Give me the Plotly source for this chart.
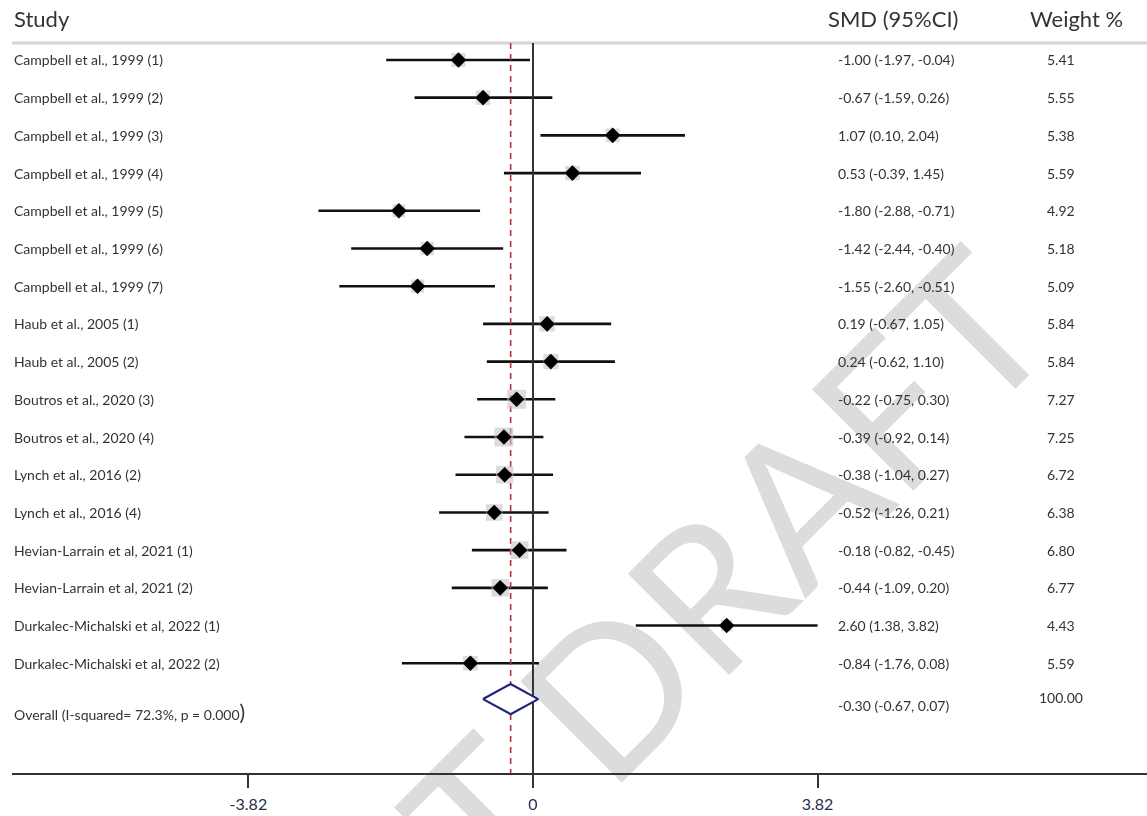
import plotly.graph_objects as go

# ---------------- data ----------------
studies = [
    "Campbell et al., 1999 (1)", "Campbell et al., 1999 (2)", "Campbell et al., 1999 (3)",
    "Campbell et al., 1999 (4)", "Campbell et al., 1999 (5)", "Campbell et al., 1999 (6)",
    "Campbell et al., 1999 (7)", "Haub et al., 2005 (1)", "Haub et al., 2005 (2)",
    "Boutros et al., 2020 (3)", "Boutros et al., 2020 (4)", "Lynch et al., 2016 (2)",
    "Lynch et al., 2016 (4)", "Hevian-Larrain et al, 2021 (1)", "Hevian-Larrain et al, 2021 (2)",
    "Durkalec-Michalski et al, 2022 (1)", "Durkalec-Michalski et al, 2022 (2)",
]
smd = [-1.00, -0.67, 1.07, 0.53, -1.80, -1.42, -1.55, 0.19, 0.24, -0.22, -0.39, -0.38, -0.52,
       -0.18, -0.44, 2.60, -0.84]
ci_low = [-1.97, -1.59, 0.10, -0.39, -2.88, -2.44, -2.60, -0.67, -0.62, -0.75, -0.92, -1.04,
          -1.26, -0.82, -1.09, 1.38, -1.76]
ci_high = [-0.04, 0.26, 2.04, 1.45, -0.71, -0.40, -0.51, 1.05, 1.10, 0.30, 0.14, 0.27, 0.21,
           0.45, 0.20, 3.82, 0.08]
weights = [5.41, 5.55, 5.38, 5.59, 4.92, 5.18, 5.09, 5.84, 5.84, 7.27, 7.25, 6.72, 6.38,
           6.80, 6.77, 4.43, 5.59]
smd_labels = [
    "-1.00 (-1.97, -0.04)", "-0.67 (-1.59, 0.26)", "1.07 (0.10, 2.04)", "0.53 (-0.39, 1.45)",
    "-1.80 (-2.88, -0.71)", "-1.42 (-2.44, -0.40)", "-1.55 (-2.60, -0.51)", "0.19 (-0.67, 1.05)",
    "0.24 (-0.62, 1.10)", "-0.22 (-0.75, 0.30)", "-0.39 (-0.92, 0.14)", "-0.38 (-1.04, 0.27)",
    "-0.52 (-1.26, 0.21)", "-0.18 (-0.82, -0.45)", "-0.44 (-1.09, 0.20)", "2.60 (1.38, 3.82)",
    "-0.84 (-1.76, 0.08)",
]
overall_label = "Overall (I-squared= 72.3%, p = 0.000"
overall_smd = -0.30
overall_low = -0.67
overall_high = 0.07
overall_smd_label = "-0.30 (-0.67, 0.07)"
overall_weight_label = "100.00"
tick_vals = [-3.82, 0, 3.82]
tick_text = ["-3.82", "0", "3.82"]

# ---------------- layout helpers ----------------
FONT = "Lato, 'Open Sans', sans-serif"
TXT = "#333333"
n = len(studies)
rows = list(range(n))
overall_y = n - 0.05
Y_TOP, Y_BOT = -1.59, 18.91      # y range (reversed)
HEADER_Y = -0.45                 # header rule
X_MIN, X_MAX = -6.993, 8.242
SMD_X = 4.07
W_X = 7.09
FS = 14

fig = go.Figure()

# CI lines
cx, cy = [], []
for lo, hi, r in zip(ci_low, ci_high, rows):
    cx += [lo, hi, None]
    cy += [r, r, None]
fig.add_trace(go.Scatter(x=cx, y=cy, mode="lines", line=dict(color="#111111", width=2.6),
                         hoverinfo="skip", showlegend=False))

# zero line and overall dashed line
fig.add_trace(go.Scatter(x=[0, 0], y=[HEADER_Y, Y_BOT], mode="lines",
                         line=dict(color="#333333", width=2), hoverinfo="skip", showlegend=False))
fig.add_trace(go.Scatter(x=[overall_smd, overall_smd], y=[HEADER_Y, Y_BOT], mode="lines",
                         line=dict(color="#b5303c", width=1.6, dash="6px,5px"),
                         hoverinfo="skip", showlegend=False))

# weight boxes
fig.add_trace(go.Scatter(x=smd, y=rows, mode="markers",
                         marker=dict(symbol="square", color="#c4c4c4",
                                     size=[2.6 * w for w in weights], line=dict(width=0)),
                         opacity=0.85, hoverinfo="skip", showlegend=False))
# point estimates
fig.add_trace(go.Scatter(x=smd, y=rows, mode="markers",
                         marker=dict(symbol="diamond", color="#000000", size=12),
                         hoverinfo="skip", showlegend=False))

# overall diamond
fig.add_trace(go.Scatter(
    x=[overall_low, overall_smd, overall_high, overall_smd, overall_low],
    y=[overall_y, overall_y - 0.4, overall_y, overall_y + 0.4, overall_y],
    mode="lines", fill="toself", fillcolor="white",
    line=dict(color="#1f237f", width=2.2), hoverinfo="skip", showlegend=False))

ann = []
# headers
for txt, x, xref, xa in [("Study", 0, "paper", "left"), ("SMD (95%CI)", 4.83, "x", "center"),
                         ("Weight %", 7.30, "x", "center")]:
    ann.append(dict(x=x, xref=xref, y=-1.11, yref="y", text=txt, xanchor=xa,
                    yanchor="middle", showarrow=False,
                    font=dict(size=22, color=TXT, family=FONT)))

for s, lab, w, r in zip(studies, smd_labels, weights, rows):
    ann.append(dict(x=0, xref="paper", y=r, yref="y", text=s, xanchor="left", yanchor="middle",
                    showarrow=False, font=dict(size=FS, color=TXT, family=FONT)))
    ann.append(dict(x=SMD_X, xref="x", y=r, yref="y", text=lab, xanchor="left",
                    yanchor="middle", showarrow=False, font=dict(size=FS, color=TXT, family=FONT)))
    ann.append(dict(x=W_X, xref="x", y=r, yref="y", text=f"{w:.2f}", xanchor="center",
                    yanchor="middle", showarrow=False, font=dict(size=FS, color=TXT, family=FONT)))

ann.append(dict(x=0, xref="paper", y=n + 0.27, yref="y",
                text=overall_label + "<span style='font-size:21px'>)</span>",
                xanchor="left", yanchor="middle", showarrow=False,
                font=dict(size=FS, color=TXT, family=FONT)))
ann.append(dict(x=SMD_X, xref="x", y=n + 0.11, yref="y", text=overall_smd_label,
                xanchor="left", yanchor="middle", showarrow=False,
                font=dict(size=FS, color=TXT, family=FONT)))
ann.append(dict(x=W_X, xref="x", y=n - 0.1, yref="y", text=overall_weight_label,
                xanchor="center", yanchor="middle", showarrow=False,
                font=dict(size=FS, color=TXT, family=FONT)))

shapes = [
    # header rule
    dict(type="line", xref="paper", x0=0, x1=1, yref="y", y0=HEADER_Y, y1=HEADER_Y,
         line=dict(color="#d6d6d6", width=3), layer="below"),
    # watermark
    dict(type="line", xref="paper", yref="paper", x0=0.6206, y0=0.2689, x1=0.6306, y1=0.2589,
         line=dict(color="rgba(0,0,0,0)", width=0), layer="below",
         label=dict(text="T DRAFT", textangle=-45, textposition="middle",
                    xanchor="center", yanchor="middle",
                    font=dict(size=200, color="#dcdcdc", family=FONT))),
]

fig.update_layout(
    width=1147, height=816,
    margin=dict(l=12, r=0, t=0, b=43),
    paper_bgcolor="white", plot_bgcolor="white",
    annotations=ann, shapes=shapes,
    xaxis=dict(range=[X_MIN, X_MAX], showgrid=False, zeroline=False, showline=True,
               linecolor="#333333", linewidth=2, ticks="outside", ticklen=13, tickwidth=2,
               tickcolor="#333333", tickvals=tick_vals, ticktext=tick_text,
               ticklabelstandoff=3,
               tickfont=dict(size=16, color="#26304f", family=FONT), fixedrange=True),
    yaxis=dict(range=[Y_BOT, Y_TOP], visible=False, showgrid=False, zeroline=False,
               fixedrange=True),
    showlegend=False,
)

fig.write_html("out.html")
